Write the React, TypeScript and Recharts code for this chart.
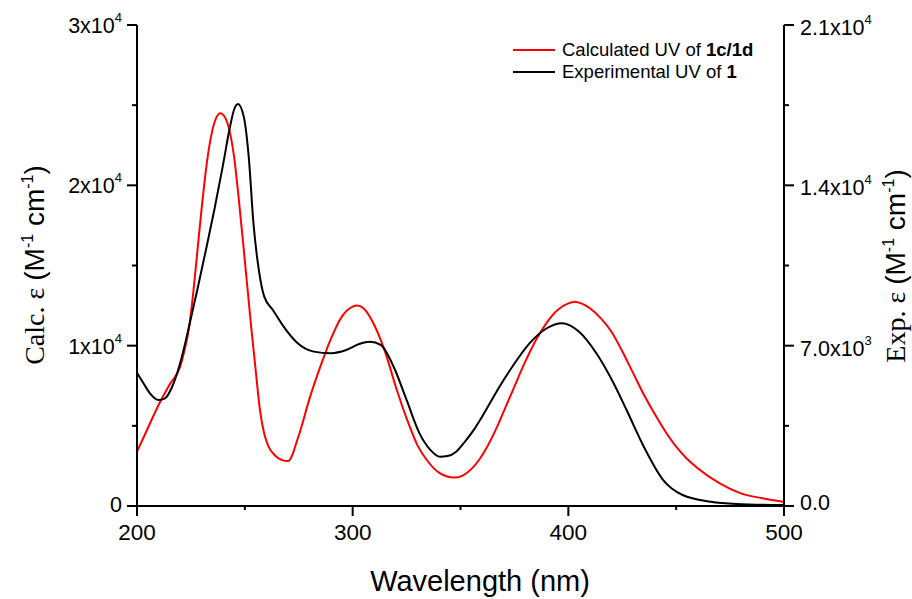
import { ComposedChart, Line, XAxis, YAxis } from 'recharts';

// wavelength (nm) / epsilon
const calcWl = [200, 205, 210, 215, 220, 222, 224, 226, 228, 230, 232, 234, 236, 238.6, 241, 243, 245, 247, 250, 253, 255, 257, 259, 261, 264, 267, 270, 275, 280, 285, 290, 295, 300, 302, 305, 310, 315, 320, 325, 330, 335, 340, 347, 351, 355, 359, 363, 367, 371, 375, 380, 385, 390, 395, 400, 403, 406, 410, 415, 420, 425, 430, 435, 440, 445, 450, 455, 460, 470, 480, 490, 500];
const calcEps = [3390, 4850, 6300, 7550, 8690, 9700, 11000, 13200, 15900, 18600, 21000, 22800, 23950, 24500, 24190, 23350, 21790, 19400, 15300, 11100, 8500, 6000, 4500, 3700, 3150, 2880, 2800, 4400, 6700, 8690, 10460, 11810, 12430, 12500, 12330, 11290, 9630, 7440, 5470, 3800, 2760, 2080, 1770, 1900, 2300, 2950, 3850, 4950, 6200, 7450, 9000, 10360, 11440, 12230, 12640, 12740, 12640, 12330, 11720, 10870, 9650, 8300, 6950, 5750, 4650, 3700, 2950, 2350, 1420, 790, 480, 250];

const expWl = [200, 203, 206, 210, 213, 216, 220, 224, 228, 232, 236, 240, 243, 245, 246.8, 249.5, 251.8, 254, 256.5, 259, 263, 268, 274, 282, 290, 297, 303, 308, 313, 319, 325, 331, 336, 340.5, 344, 348, 352, 356, 360, 364, 368, 373, 382, 390, 397, 405, 413, 421, 427, 435, 444, 453, 466, 478, 500];
const expEps = [5820, 5360, 4920, 4630, 4700, 5140, 6230, 7780, 9450, 11200, 13000, 14950, 16500, 17300, 17550, 17000, 15250, 12340, 10300, 9140, 8560, 7830, 7150, 6740, 6670, 6810, 7070, 7170, 7030, 6080, 4630, 3170, 2450, 2150, 2180, 2370, 2800, 3300, 3900, 4550, 5200, 5940, 7100, 7760, 7980, 7610, 6670, 5360, 4190, 2590, 1135, 480, 190, 90, 40];

const xTicks = [200, 250, 300, 350, 400, 450, 500];
const xLabels = ['200', '', '300', '', '400', '', '500'];
const leftTicks = [0, 5000, 10000, 15000, 20000, 25000, 30000];
const leftLabels: [string, string][] = [['0', ''], ['', ''], ['1x10', '4'], ['', ''], ['2x10', '4'], ['', ''], ['3x10', '4']];
const rightTicks = [0, 3500, 7000, 10500, 14000, 17500, 21000];
const rightLabels: [string, string][] = [['0.0', ''], ['', ''], ['7.0x10', '3'], ['', ''], ['1.4x10', '4'], ['', ''], ['2.1x10', '4']];

const calcData = calcWl.map((wl, i) => ({ wl, eps: calcEps[i] }));
const expData = expWl.map((wl, i) => ({ wl, eps: expEps[i] }));

const SANS = '"Liberation Sans", Arial, sans-serif';
const SERIF = '"Liberation Serif", "Times New Roman", serif';

const XTick = (props: any) => {
  const { x, y, index } = props;
  const label = xLabels[index];
  return (
    <g>
      <line x1={x} x2={x} y1={y} y2={y + (label ? 10 : 4)} stroke="#000" strokeWidth={2} />
      {label && (
        <text x={x} y={y + 34} textAnchor="middle" fontFamily={SANS} fontSize={22.5} fill="#000">
          {label}
        </text>
      )}
    </g>
  );
};

const LeftTick = (props: any) => {
  const { x, y, index } = props;
  const [base, sup] = leftLabels[index];
  const major = base !== '';
  return (
    <g>
      <line x1={x - (major ? 10 : 5)} x2={x} y1={y} y2={y} stroke="#000" strokeWidth={2} />
      {major && (
        <text x={x - 15} y={y + (sup ? 8 : 6)} textAnchor="end" fontFamily={SANS} fontSize={21.5} fill="#000">
          {base}
          {sup && <tspan dy={-11} fontSize={13}>{sup}</tspan>}
        </text>
      )}
    </g>
  );
};

const RightTick = (props: any) => {
  const { x, y, index } = props;
  const [base, sup] = rightLabels[index];
  const major = base !== '';
  return (
    <g>
      <line x1={x} x2={x + (major ? 10 : 5)} y1={y} y2={y} stroke="#000" strokeWidth={2} />
      {major && (
        <text x={x + 16} y={y + (sup ? 10 : 4)} textAnchor="start" fontFamily={SANS} fontSize={21.5} fill="#000">
          {base}
          {sup && <tspan dy={-11} fontSize={13}>{sup}</tspan>}
        </text>
      )}
    </g>
  );
};

const EpsTitle = ({ prefix, cx, cy }: { prefix: string; cx: number; cy: number }) => (
  <text x={cx} y={cy} textAnchor="middle" transform={`rotate(-90, ${cx}, ${cy})`} fontSize={28} fill="#000">
    <tspan fontFamily={SERIF}>{prefix} ε </tspan>
    <tspan fontFamily={SANS}>(M</tspan>
    <tspan fontFamily={SANS} fontSize={16} dy={-11}>-1</tspan>
    <tspan fontFamily={SANS} dy={11}> cm</tspan>
    <tspan fontFamily={SANS} fontSize={16} dy={-11}>-1</tspan>
    <tspan fontFamily={SANS} dy={11}>)</tspan>
  </text>
);

const XTitle = () => (
  <text x={480} y={591} textAnchor="middle" fontFamily={SANS} fontSize={29} fill="#000">
    Wavelength (nm)
  </text>
);

export default function App() {
  return (
    <div style={{ position: 'absolute', left: 0, top: 0, width: 912, height: 599, background: '#fff' }}>
      <ComposedChart width={912} height={599} margin={{ top: 25, right: 0, bottom: 0, left: 0 }}>
        <XAxis
          dataKey="wl"
          type="number"
          domain={[200, 500]}
          ticks={xTicks}
          interval={0}
          height={93}
          tickSize={0}
          tickMargin={0}
          tickLine={false}
          axisLine={{ stroke: '#000', strokeWidth: 2 }}
          tick={<XTick />}
          label={<XTitle />}
          allowDuplicatedCategory={false}
        />
        <YAxis
          yAxisId="left"
          type="number"
          domain={[0, 30000]}
          ticks={leftTicks}
          interval={0}
          width={137}
          tickSize={0}
          tickMargin={0}
          tickLine={false}
          axisLine={{ stroke: '#000', strokeWidth: 2 }}
          tick={<LeftTick />}
          label={<EpsTitle prefix="Calc." cx={44} cy={265} />}
        />
        <YAxis
          yAxisId="right"
          orientation="right"
          type="number"
          domain={[0, 21000]}
          ticks={rightTicks}
          interval={0}
          width={128}
          tickSize={0}
          tickMargin={0}
          tickLine={false}
          axisLine={{ stroke: '#000', strokeWidth: 2 }}
          tick={<RightTick />}
          label={<EpsTitle prefix="Exp." cx={905} cy={266} />}
        />
        <Line
          yAxisId="left"
          data={calcData}
          dataKey="eps"
          type="monotone"
          stroke="#ff0000"
          strokeWidth={2}
          dot={false}
          isAnimationActive={false}
        />
        <Line
          yAxisId="right"
          data={expData}
          dataKey="eps"
          type="monotone"
          stroke="#000"
          strokeWidth={2}
          dot={false}
          isAnimationActive={false}
        />
      </ComposedChart>
      <div style={{ position: 'absolute', left: 513, top: 39, fontFamily: SANS, fontSize: 18.5, color: '#000', lineHeight: '22px' }}>
        <div style={{ display: 'flex', alignItems: 'center' }}>
          <span style={{ display: 'inline-block', width: 42, borderTop: '2px solid #ff0000', marginRight: 7 }} />
          <span>Calculated UV of <b>1c/1d</b></span>
        </div>
        <div style={{ display: 'flex', alignItems: 'center' }}>
          <span style={{ display: 'inline-block', width: 42, borderTop: '2px solid #000', marginRight: 7 }} />
          <span>Experimental UV of <b>1</b></span>
        </div>
      </div>
    </div>
  );
}
